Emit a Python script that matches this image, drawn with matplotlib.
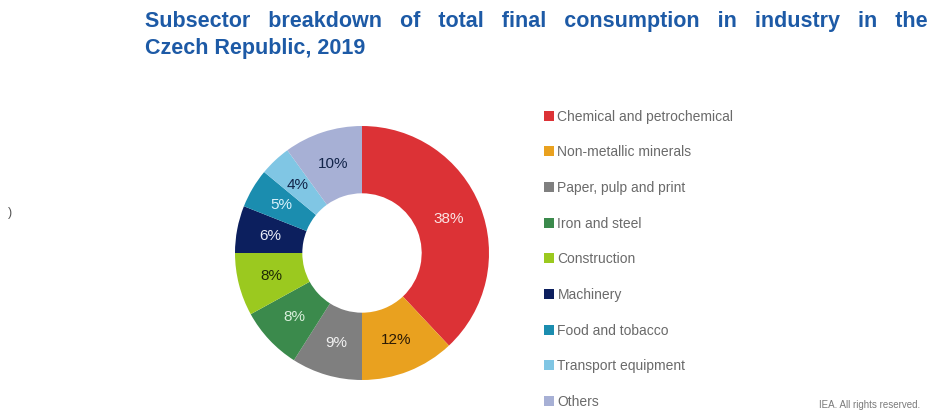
import matplotlib.pyplot as plt
from matplotlib.patches import Patch

# Data
sectors = ["Chemical and petrochemical", "Non-metallic minerals", "Paper, pulp and print",
           "Iron and steel", "Construction", "Machinery", "Food and tobacco",
           "Transport equipment", "Others"]
shares = [38, 12, 9, 8, 8, 6, 5, 4, 10]
colors = ["#dc3236", "#e9a11f", "#7f7f7f", "#3b8a4c", "#9bc91f", "#0c1f5e",
          "#1b8daf", "#80c6e4", "#a7b0d5"]
label_colors = ["#fbe4e4", "#2a1a05", "#f2f2f2", "#d9f0dc", "#1e2a05", "#e8ecf8",
                "#d9f2fb", "#13254a", "#13254a"]

plt.rcParams['font.family'] = ['Liberation Sans', 'DejaVu Sans']

W, H = 943, 412
fig = plt.figure(figsize=(W / 100, H / 100), dpi=100)

# donut axes: centre (362, 253) px, radius 127 px
cx, cy, r = 362, 253, 127
ax = fig.add_axes([(cx - r) / W, (H - cy - r) / H, 2 * r / W, 2 * r / H])
wedges, texts, autotexts = ax.pie(
    shares, colors=colors, startangle=90, counterclock=False,
    wedgeprops=dict(width=0.53, edgecolor="none"),
    autopct=lambda p: f"{p:.0f}%", pctdistance=0.735,
    textprops=dict(fontsize=11))
for t, c in zip(autotexts, label_colors):
    t.set_color(c)
ax.set_xlim(-1, 1)
ax.set_ylim(-1, 1)
ax.set_aspect("equal")
ax.axis("off")

# title (first line justified in the original, hence the wider gaps)
line1 = "   ".join("Subsector breakdown of total final consumption in industry in the".split())
fig.text(145 / W, 1 - 11 / H, line1 + "\nCzech Republic, 2019",
         ha="left", va="top", fontsize=15.5, fontweight="bold", color="#1d5aa6",
         linespacing=1.35)

# legend
handles = [Patch(facecolor=c, edgecolor="none") for c in colors]
fig.legend(handles, sectors, loc="upper left", bbox_to_anchor=(538 / W, 1 - 104 / H),
           frameon=False, fontsize=10, labelcolor="#6a6a6a",
           handlelength=0.75, handleheight=0.75, handletextpad=0.25,
           labelspacing=1.56, borderaxespad=0)

# footnote
fig.text(920 / W, 1 - 405 / H, "IEA. All rights reserved.", ha="right", va="center",
         fontsize=7, color="#7a7a7a")
fig.text(10 / W, 1 - 213 / H, ")", ha="center", va="center", fontsize=9, color="#555555")

fig.savefig("out.png", dpi=100, facecolor="white")
